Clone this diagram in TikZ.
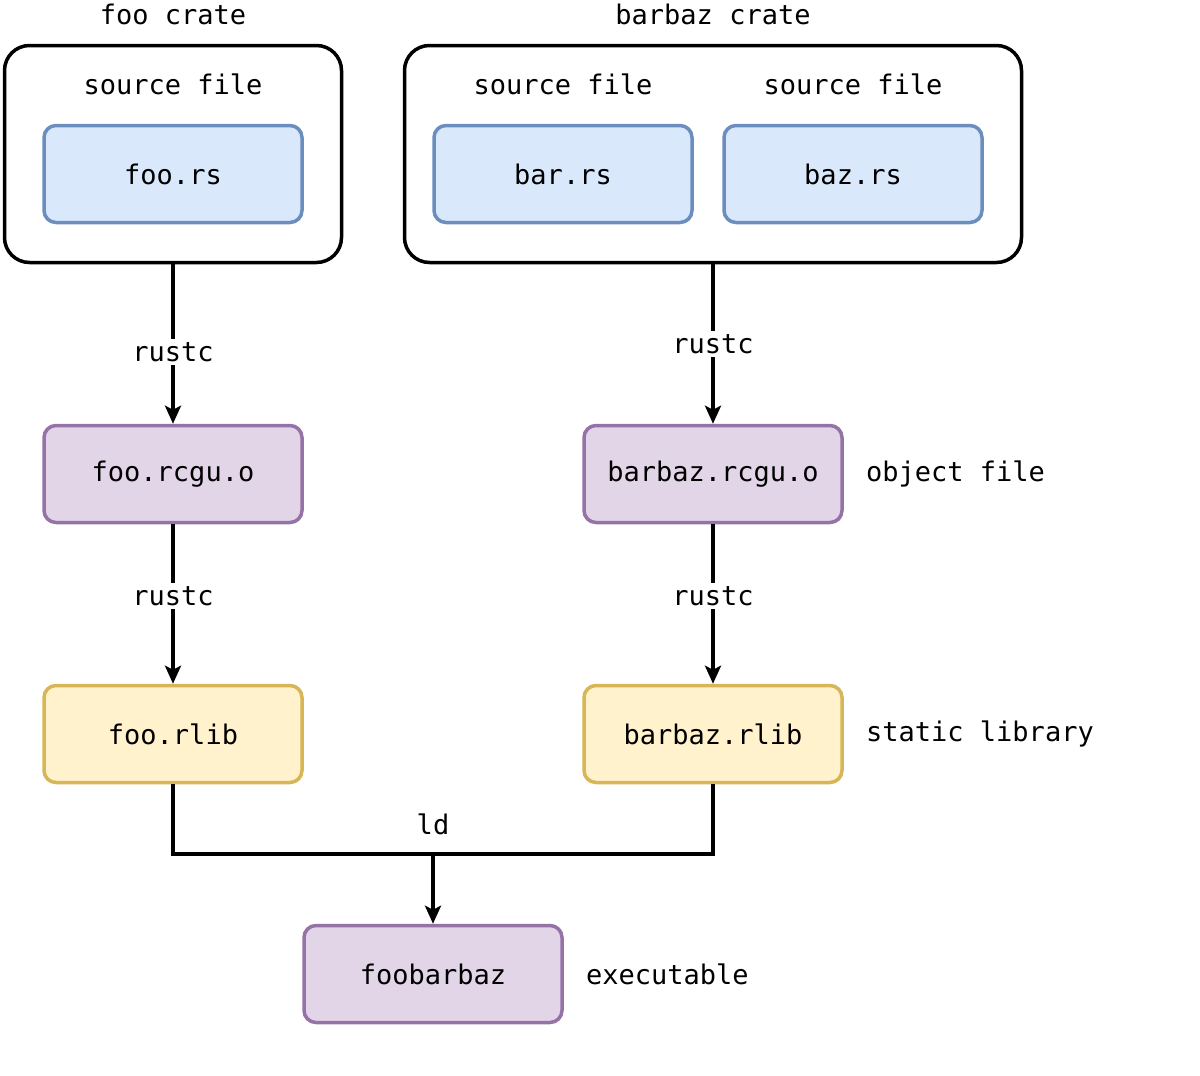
\documentclass[tikz,border=0pt]{standalone}
\usepackage{fontspec}
\setmainfont{DejaVu Sans Mono}
\usetikzlibrary{arrows.meta}
\definecolor{bf}{HTML}{DAE8FC}\definecolor{bs}{HTML}{6C8EBF}
\definecolor{pf}{HTML}{E1D5E7}\definecolor{ps}{HTML}{9673A6}
\definecolor{yf}{HTML}{FFF2CC}\definecolor{ys}{HTML}{D6B656}
\begin{document}
\begin{tikzpicture}[x=1pt,y=-1pt,
  font=\fontsize{27}{32}\selectfont,
  box/.style={draw,line width=3.5pt,rounded corners=12pt,minimum width=258pt,minimum height=97pt,inner sep=0pt},
  blue/.style={box,fill=bf,draw=bs},
  purp/.style={box,fill=pf,draw=ps},
  yel/.style={box,fill=yf,draw=ys},
  crate/.style={draw,line width=3.5pt,rounded corners=25pt,inner sep=0pt},
  lbl/.style={fill=white,inner sep=3pt},
  arr/.style={line width=3.5pt,-{Stealth[length=18pt,width=16pt,inset=4pt]}}]
\useasboundingbox (0,0) rectangle (1200,1076);
\node[crate,minimum width=337pt,minimum height=217pt] (foocrate) at (173,154) {};
\node[crate,minimum width=617pt,minimum height=217pt] (barbazcrate) at (713,154) {};
\node (t1) at (173,14) {foo crate};
\node (t2) at (713,14) {barbaz crate};
\node (s1) at (173,84) {source file};
\node (s2) at (563,84) {source file};
\node (s3) at (853,84) {source file};
\node[blue] (foors) at (173,174) {foo.rs};
\node[blue] (barrs) at (563,174) {bar.rs};
\node[blue] (bazrs) at (853,174) {baz.rs};
\node[purp] (foorcgu) at (173,474) {foo.rcgu.o};
\node[purp] (barbazrcgu) at (713,474) {barbaz.rcgu.o};
\node[yel] (foorlib) at (173,734) {foo.rlib};
\node[yel] (barbazrlib) at (713,734) {barbaz.rlib};
\node[purp] (exe) at (433,974) {foobarbaz};
\node[anchor=west,inner xsep=0pt] (l1) at (866,474) {object file};
\node[anchor=west,inner xsep=0pt] (l2) at (866,734) {static library};
\node[anchor=west,inner xsep=0pt] (l3) at (586,974) {executable};
\draw[arr] (foocrate.south) -- node[lbl,pos=0.55] {rustc} (foorcgu.north);
\draw[arr] (barbazcrate.south) -- node[lbl,pos=0.5] {rustc} (barbazrcgu.north);
\draw[arr] (foorcgu.south) -- node[lbl,pos=0.45] {rustc} (foorlib.north);
\draw[arr] (barbazrcgu.south) -- node[lbl,pos=0.45] {rustc} (barbazrlib.north);
\coordinate (j) at (433,854);
\draw[line width=3.5pt] (foorlib.south) |- (j) -| (barbazrlib.south);
\node (ld) at (433,824) {ld};
\draw[arr] (j) -- (exe.north);
\end{tikzpicture}
\end{document}
